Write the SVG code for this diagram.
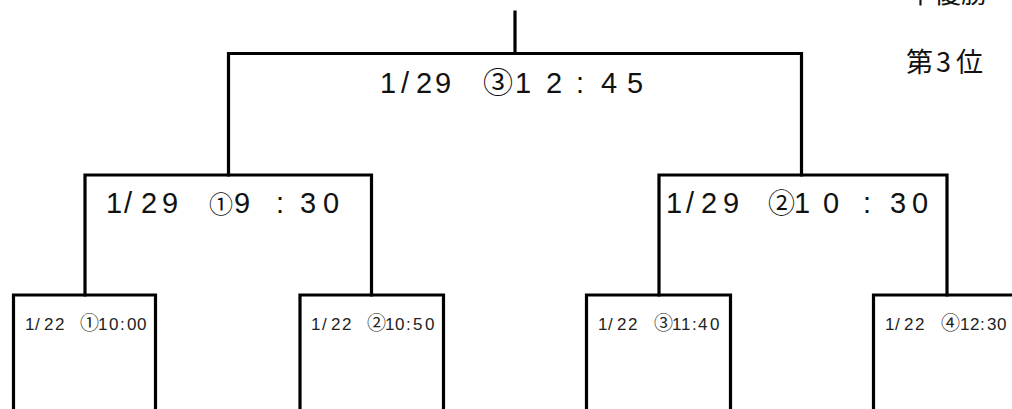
<svg xmlns="http://www.w3.org/2000/svg" width="1012" height="409" viewBox="0 0 1012 409">
<style>
.ln{fill:none;stroke:#000;stroke-width:3.2;stroke-linecap:square}
.big{font-family:"Liberation Sans","Noto Sans CJK JP",sans-serif;font-size:29px;fill:#111}
.sm{font-family:"Liberation Sans","Noto Sans CJK JP",sans-serif;font-size:17px;fill:#222}
.c{font-family:"Noto Sans CJK JP",sans-serif}
.jp{font-family:"Noto Sans CJK JP",sans-serif;font-size:27px;fill:#111}
</style>
<rect width="1012" height="409" fill="#fff"/>
<g id="connectors">
<path class="ln" d="M515 12V53.5M228.5 53.5H801.5M228.5 53.5V175M801.5 53.5V175"/>
<path class="ln" d="M85 175H371.5M85 175V295M371.5 175V295"/>
<path class="ln" d="M659 175H947M659 175V295M947 175V295"/>
</g>
<g id="final">
<text class="big" y="93"><tspan x="380 401 416 435">1/29</tspan><tspan class="c" x="483" font-size="30">③</tspan><tspan x="515 546 576 601 627">12:45</tspan></text>
</g>
<g id="semi1">
<text class="big" y="213"><tspan x="106 124 141 162">1/29</tspan><tspan class="c" x="209" font-size="24">①</tspan><tspan x="234 276 300 323">9:30</tspan></text>
</g>
<g id="semi2">
<text class="big" y="213"><tspan x="666 686 701 723">1/29</tspan><tspan class="c" x="768" font-size="27">②</tspan><tspan x="794 823 863 890 912">10:30</tspan></text>
</g>
<g id="m1">
<path class="ln" d="M13.5 409V295H155.5V409"/>
<text class="sm" y="330"><tspan x="25 35 44 55">1/22</tspan><tspan class="c" x="80" font-size="19">①</tspan><tspan x="98 109 120 127 137">10:00</tspan></text>
</g>
<g id="m2">
<path class="ln" d="M300 409V295H443.5V409"/>
<text class="sm" y="330"><tspan x="311 322 331 342">1/22</tspan><tspan class="c" x="367" font-size="19">②</tspan><tspan x="385 395 406 413 425">10:50</tspan></text>
</g>
<g id="m3">
<path class="ln" d="M586.5 409V295H730.5V409"/>
<text class="sm" y="330"><tspan x="598 608 617 628">1/22</tspan><tspan class="c" x="654" font-size="19">③</tspan><tspan x="672 681 692 698 710">11:40</tspan></text>
</g>
<g id="m4">
<path class="ln" d="M873.5 409V295H1015"/>
<text class="sm" y="330"><tspan x="885 895 904 915">1/22</tspan><tspan class="c" x="941" font-size="19">④</tspan><tspan x="960 970 980 987 997">12:30</tspan></text>
</g>
<g id="labels">
<text class="jp" x="907" y="3">準優勝</text>
<text class="jp" x="906 936 956" y="72">第3位</text>
</g>
</svg>
